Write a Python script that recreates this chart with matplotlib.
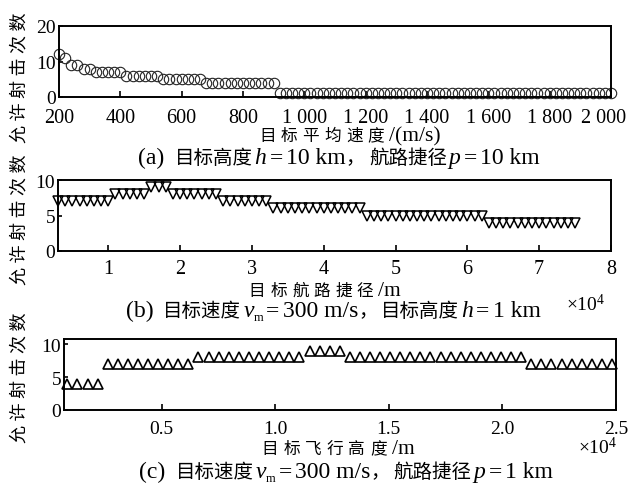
import numpy as np
import matplotlib
matplotlib.use('Agg')
import matplotlib.pyplot as plt
from matplotlib.transforms import ScaledTranslation

# (a) 目标平均速度 (m/s) -> 允许射击次数
speed = [200, 220, 240, 260, 280, 300, 320, 340, 360, 380,
         400, 420, 440, 460, 480, 500, 520, 540, 560, 580,
         600, 620, 640, 660, 680, 700, 720, 740, 760, 780,
         800, 820, 840, 860, 880, 900, 920, 940, 960, 980,
         1000, 1020, 1040, 1060, 1080, 1100, 1120, 1140, 1160, 1180,
         1200, 1220, 1240, 1260, 1280, 1300, 1320, 1340, 1360, 1380,
         1400, 1420, 1440, 1460, 1480, 1500, 1520, 1540, 1560, 1580,
         1600, 1620, 1640, 1660, 1680, 1700, 1720, 1740, 1760, 1780,
         1800, 1820, 1840, 1860, 1880, 1900, 1920, 1940, 1960, 1980,
         2000]
shots_a = [12, 11, 9, 9, 8, 8, 7, 7, 7, 7,
           7, 6, 6, 6, 6, 6, 6, 5, 5, 5,
           5, 5, 5, 5, 4, 4, 4, 4, 4, 4,
           4, 4, 4, 4, 4, 4, 1, 1, 1, 1,
           1, 1, 1, 1, 1, 1, 1, 1, 1, 1,
           1, 1, 1, 1, 1, 1, 1, 1, 1, 1,
           1, 1, 1, 1, 1, 1, 1, 1, 1, 1,
           1, 1, 1, 1, 1, 1, 1, 1, 1, 1,
           1, 1, 1, 1, 1, 1, 1, 1, 1, 1,
           1]
ticks_a = [200, 400, 600, 800, 1000, 1200, 1400, 1600, 1800, 2000]
ticklabels_a = ['200', '400', '600', '800', '1 000', '1 200', '1 400', '1 600', '1 800', '2 000']

# (b) 目标航路捷径 (km) -> 允许射击次数
route_km = [3, 4, 5, 6, 7, 8, 9, 10, 11, 12,
            13, 14, 15, 16, 17, 18, 19, 20, 21, 22,
            23, 24, 25, 26, 27, 28, 29, 30, 31, 32,
            33, 34, 35, 36, 37, 38, 39, 40, 41, 42,
            43, 44, 45, 46, 47, 48, 49, 50, 51, 52,
            53, 54, 55, 56, 57, 58, 59, 60, 61, 62,
            63, 64, 65, 66, 67, 68, 69, 70, 71, 72,
            73, 74, 75]
shots_b = [7, 7, 7, 7, 7, 7, 7, 7, 8, 8,
           8, 8, 8, 9, 9, 9, 8, 8, 8, 8,
           8, 8, 8, 7, 7, 7, 7, 7, 7, 7,
           6, 6, 6, 6, 6, 6, 6, 6, 6, 6,
           6, 6, 6, 5, 5, 5, 5, 5, 5, 5,
           5, 5, 5, 5, 5, 5, 5, 5, 5, 5,
           4, 4, 4, 4, 4, 4, 4, 4, 4, 4,
           4, 4, 4]
ticks_b = [1, 2, 3, 4, 5, 6, 7, 8]

# (c) 目标飞行高度 (km) -> 允许射击次数
alt_km = [0.85, 1.29, 1.74, 2.18, 2.63, 3.07, 3.51, 3.96, 4.40, 4.85,
          5.29, 5.73, 6.18, 6.62, 7.07, 7.51, 7.95, 8.40, 8.84, 9.29,
          9.73, 10.17, 10.62, 11.06, 11.51, 11.95, 12.39, 12.84, 13.28, 13.73,
          14.17, 14.61, 15.06, 15.50, 15.95, 16.39, 16.83, 17.28, 17.72, 18.17,
          18.61, 19.05, 19.50, 19.94, 20.39, 20.83, 21.27, 21.72, 22.16, 22.61,
          23.05, 23.49, 23.94, 24.38, 24.83]
shots_c = [4, 4, 4, 4, 7, 7, 7, 7, 7, 7,
           7, 7, 7, 8, 8, 8, 8, 8, 8, 8,
           8, 8, 8, 8, 9, 9, 9, 9, 8, 8,
           8, 8, 8, 8, 8, 8, 8, 8, 8, 8,
           8, 8, 8, 8, 8, 8, 7, 7, 7, 7,
           7, 7, 7, 7, 7]
ticks_c = [0.5, 1.0, 1.5, 2.0, 2.5]
ticklabels_c = ['0.5', '1.0', '1.5', '2.0', '2.5']

plt.rcParams['font.family'] = ['Liberation Serif', 'Noto Sans CJK SC']
plt.rcParams['mathtext.fontset'] = 'custom'
plt.rcParams['mathtext.rm'] = 'Liberation Serif'
plt.rcParams['mathtext.it'] = 'Liberation Serif:italic'
plt.rcParams['axes.linewidth'] = 1.4

W, H = 632, 485
fig = plt.figure(figsize=(W / 100, H / 100), dpi=100)

# 字体: 西文 / 斜体 / 中文 / 下标
lat = dict(family='Liberation Serif', fontsize=17)
ita = dict(family='Liberation Serif', fontsize=17, style='italic')
cjk = dict(family='Noto Sans CJK SC', fontsize=14)
sub = dict(family='Liberation Serif', fontsize=9, dy=4)
lab_lat = dict(family='Liberation Serif', fontsize=15.5)
lab_cjk = dict(family='Noto Sans CJK SC', fontsize=12)


def box(l, t, r, b):
    return [l / W, 1 - b / H, (r - l) / W, (b - t) / H]


def put(x, y, s, **kw):
    fig.text(x / W, 1 - y / H, s, ha=kw.pop('ha', 'center'), va='center', **kw)


def rich(xc, yb, parts):
    # 把几段文字按基线排成一行, 居中于 xc
    r = fig.canvas.get_renderer()
    placed = []
    x = 0
    for p in parts:
        if not isinstance(p, tuple):
            x += p
            continue
        s, kw = p[0], dict(p[1])
        gap = p[2] if len(p) > 2 else 0
        dy = kw.pop('dy', 0)
        chars = list(s) if gap else [s]
        for i, c in enumerate(chars):
            t = fig.text(0, 0, c, ha='left', va='baseline', **kw)
            placed.append((t, x, dy))
            x += t.get_window_extent(r).width
            if i < len(chars) - 1:
                x += gap
    x0 = xc - x / 2
    for t, dx, dy in placed:
        t.set_position(((x0 + dx) / W, 1 - (yb + dy) / H))


def style(ax, xfs, pad):
    ax.tick_params(axis='x', direction='in', length=4, width=1.2, labelsize=xfs, pad=pad, top=False)
    ax.tick_params(axis='y', direction='in', length=3, width=1.2, labelsize=14, pad=2, right=False)


# %% (a)
ax_a = fig.add_axes(box(59, 27, 611, 98))
ax_a.plot(speed, shots_a, ls='none', marker='o', ms=7.5, mfc='none',
          mec='#222222', mew=0.8, clip_on=False)
ax_a.set_xlim(200, 2000)
ax_a.set_ylim(0, 20)
ax_a.set_xticks(ticks_a, ticklabels_a)
ax_a.set_yticks([0, 10, 20])
style(ax_a, 14.5, 8)
# 最后一个刻度标签稍向左移, 不出画面
last = ax_a.get_xticklabels()[-1]
last.set_transform(last.get_transform() + ScaledTranslation(-7 / 100, 0, fig.dpi_scale_trans))

# %% (b)
ax_b = fig.add_axes(box(58, 181, 611, 252))
ax_b.plot(np.array(route_km) / 10, shots_b, ls='none', marker='v', ms=7,
          mfc='none', mec='black', mew=1.1, clip_on=False)
ax_b.set_xlim(0.3, 8)
ax_b.set_ylim(0, 10)
ax_b.set_xticks(ticks_b, [str(t) for t in ticks_b])
ax_b.set_yticks([0, 5, 10])
style(ax_b, 14.5, 6)

# %% (c)
ax_c = fig.add_axes(box(64, 340, 616, 411))
ax_c.plot(np.array(alt_km) / 10, shots_c, ls='none', marker='^', ms=7.5,
          mfc='none', mec='black', mew=1.2, clip_on=False)
ax_c.set_xlim(0.07, 2.5)
ax_c.set_ylim(0, 10.8)
ax_c.set_xticks(ticks_c, ticklabels_c)
ax_c.set_yticks([0, 5, 10])
style(ax_c, 14, 7)

# %% 文字
for yc in [78, 220, 378]:
    put(20, yc, '允 许 射 击 次 数', rotation=90, fontsize=13)

rich(350, 141, [('目标平均速度', lab_cjk, 5), 5, ('/(m/s)', lab_lat)])
rich(325, 296, [('目标航路捷径', lab_cjk, 5), 5, ('/m', lab_lat)])
rich(338, 454, [('目标飞行高度', lab_cjk, 5), 5, ('/m', lab_lat)])

rich(339, 164, [('(a)', lat), 10, ('目标高度', cjk), 2, ('h', ita), 3, ('=', lat), 3,
                ('10 km', lat), ('，', cjk), 4, ('航路捷径', cjk), 2, ('p', ita), 3,
                ('=', lat), 3, ('10 km', lat)])
rich(333, 317, [('(b)', lat), 10, ('目标速度', cjk), 2, ('v', ita), ('m', sub), 3, ('=', lat), 3,
                ('300 m/s', lat), ('，', cjk), 4, ('目标高度', cjk), 2, ('h', ita), 3,
                ('=', lat), 3, ('1 km', lat)])
rich(346, 478, [('(c)', lat), 10, ('目标速度', cjk), 2, ('v', ita), ('m', sub), 3, ('=', lat), 3,
                ('300 m/s', lat), ('，', cjk), 4, ('航路捷径', cjk), 2, ('p', ita), 3,
                ('=', lat), 3, ('1 km', lat)])

put(586, 305, '×10$^{4}$', fontsize=14)
put(598, 448, '×10$^{4}$', fontsize=14)

fig.savefig('out.png', dpi=100)
